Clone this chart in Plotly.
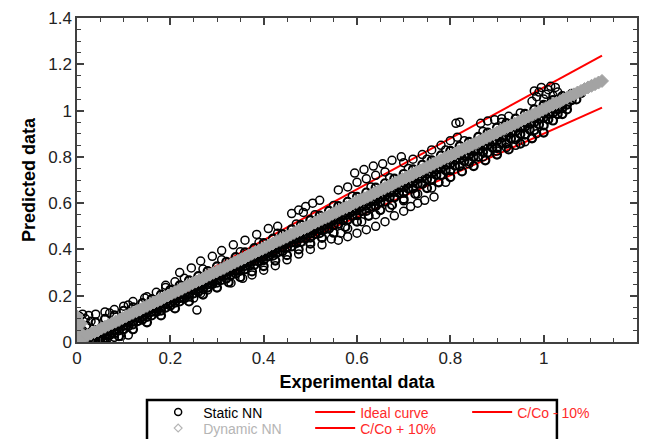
import plotly.graph_objects as go

FONT = "Liberation Sans, Arial, sans-serif"

# ---------------- data ----------------
# Reference lines
line_x = [0.0, 1.125]
ideal_y = [0.0, 1.125]
plus10_y = [0.0, 1.2375]
minus10_y = [0.0, 1.0125]

# Dynamic NN (grey diamonds)
dyn_x = [0.0, 0.015, 0.03, 0.045, 0.06, 0.075, 0.09, 0.105, 0.12, 0.135, 0.15, 0.165, 0.18, 0.195,
         0.21, 0.225, 0.24, 0.255, 0.27, 0.285, 0.30, 0.315, 0.33, 0.345, 0.36, 0.375, 0.39, 0.405,
         0.42, 0.435, 0.45, 0.465, 0.48, 0.495, 0.51, 0.525, 0.54, 0.555, 0.57, 0.585, 0.60, 0.615,
         0.63, 0.645, 0.66, 0.675, 0.69, 0.705, 0.72, 0.735, 0.75, 0.765, 0.78, 0.795, 0.81, 0.825,
         0.84, 0.855, 0.87, 0.885, 0.90, 0.915, 0.93, 0.945, 0.96, 0.975, 0.99, 1.005, 1.02, 1.035,
         1.05, 1.065, 1.08, 1.095, 1.11, 1.125,
         0.0, 0.0, 0.0, 0.0, 0.0, 0.008, 0.008]
dyn_y = [0.005, 0.02, 0.036, 0.05, 0.066, 0.081, 0.095, 0.111, 0.126, 0.14, 0.156, 0.171, 0.185, 0.201,
         0.216, 0.23, 0.246, 0.261, 0.275, 0.291, 0.306, 0.32, 0.336, 0.351, 0.365, 0.381, 0.396, 0.41,
         0.426, 0.441, 0.455, 0.471, 0.486, 0.5, 0.516, 0.531, 0.545, 0.561, 0.576, 0.59, 0.606, 0.621,
         0.635, 0.651, 0.666, 0.68, 0.696, 0.711, 0.725, 0.741, 0.756, 0.77, 0.786, 0.801, 0.815, 0.831,
         0.846, 0.86, 0.876, 0.891, 0.905, 0.921, 0.936, 0.95, 0.966, 0.981, 0.995, 1.011, 1.026, 1.04,
         1.056, 1.07, 1.085, 1.1, 1.114, 1.128,
         0.03, 0.05, 0.07, 0.09, 0.11, 0.04, 0.08]
dyn2_x = [0.0075, 0.0225, 0.0375, 0.0525, 0.0675, 0.0825, 0.0975, 0.1125, 0.1275, 0.1425, 0.1575,
          0.1725, 0.1875, 0.2025, 0.2175, 0.2325, 0.2475, 0.2625, 0.2775, 0.2925, 0.3075, 0.3225,
          0.3375, 0.3525, 0.3675, 0.3825, 0.3975, 0.4125, 0.4275, 0.4425, 0.4575, 0.4725, 0.4875,
          0.5025, 0.5175, 0.5325, 0.5475, 0.5625, 0.5775, 0.5925, 0.6075, 0.6225, 0.6375, 0.6525,
          0.6675, 0.6825, 0.6975, 0.7125, 0.7275, 0.7425, 0.7575, 0.7725, 0.7875, 0.8025, 0.8175,
          0.8325, 0.8475, 0.8625, 0.8775, 0.8925, 0.9075, 0.9225, 0.9375, 0.9525, 0.9675, 0.9825,
          0.9975, 1.0125, 1.0275, 1.0425, 1.0575, 1.0725, 1.0875, 1.1025, 1.1175]
dyn2_y = [0.014, 0.029, 0.043, 0.059, 0.074, 0.088, 0.104, 0.119, 0.133, 0.149, 0.164, 0.178, 0.194,
          0.209, 0.223, 0.239, 0.254, 0.268, 0.284, 0.299, 0.313, 0.329, 0.344, 0.358, 0.374, 0.389,
          0.403, 0.419, 0.434, 0.448, 0.464, 0.479, 0.493, 0.509, 0.524, 0.538, 0.554, 0.569, 0.583,
          0.599, 0.614, 0.628, 0.644, 0.659, 0.673, 0.689, 0.704, 0.718, 0.734, 0.749, 0.763, 0.779,
          0.794, 0.808, 0.824, 0.839, 0.853, 0.869, 0.884, 0.898, 0.914, 0.929, 0.943, 0.959, 0.974,
          0.988, 1.004, 1.019, 1.033, 1.049, 1.064, 1.078, 1.093, 1.107, 1.121]

# Static NN (black open circles) - dense core rows
core_l1_x = [0.01, 0.03, 0.05, 0.07, 0.09, 0.11, 0.13, 0.15, 0.17, 0.19, 0.21, 0.23, 0.25, 0.27, 0.29,
             0.31, 0.33, 0.35, 0.37, 0.39, 0.41, 0.43, 0.45, 0.47, 0.49, 0.51, 0.53, 0.55, 0.57, 0.59,
             0.61, 0.63, 0.65, 0.67, 0.69, 0.71, 0.73, 0.75, 0.77, 0.79, 0.81, 0.83, 0.85, 0.87, 0.89,
             0.91, 0.93, 0.95, 0.97, 0.99, 1.01, 1.03, 1.05, 1.07]
core_l1_y = [0.0, 0.008, 0.027, 0.045, 0.066, 0.085, 0.104, 0.125, 0.146, 0.164, 0.185, 0.204, 0.226,
             0.245, 0.264, 0.286, 0.305, 0.324, 0.346, 0.365, 0.384, 0.405, 0.426, 0.444, 0.465, 0.486,
             0.504, 0.525, 0.546, 0.564, 0.585, 0.606, 0.624, 0.645, 0.666, 0.684, 0.705, 0.726, 0.745,
             0.764, 0.786, 0.805, 0.824, 0.846, 0.865, 0.884, 0.905, 0.926, 0.944, 0.965, 0.986, 1.005,
             1.026, 1.048]
core_l1b_x = [0.04, 0.06, 0.08, 0.10, 0.12, 0.14, 0.16, 0.18, 0.20, 0.22, 0.24, 0.26, 0.28, 0.30, 0.32,
              0.34, 0.36, 0.38, 0.40, 0.42, 0.44, 0.46, 0.48, 0.50, 0.52, 0.54, 0.56, 0.58, 0.60, 0.62,
              0.64, 0.66, 0.68, 0.70, 0.72, 0.74, 0.76, 0.78, 0.80, 0.82, 0.84, 0.86, 0.88, 0.90, 0.92,
              0.94, 0.96, 0.98, 1.00, 1.02, 1.04, 1.06]
core_l1b_y = [0.027, 0.047, 0.068, 0.087, 0.108, 0.127, 0.147, 0.168, 0.187, 0.208, 0.228, 0.247, 0.268,
              0.288, 0.307, 0.328, 0.348, 0.367, 0.388, 0.407, 0.428, 0.447, 0.468, 0.488, 0.507, 0.528,
              0.548, 0.567, 0.588, 0.607, 0.628, 0.648, 0.667, 0.688, 0.707, 0.728, 0.748, 0.767, 0.788,
              0.807, 0.828, 0.848, 0.867, 0.888, 0.907, 0.928, 0.948, 0.967, 0.988, 1.007, 1.028, 1.045]
core_l15_x = [0.06, 0.08, 0.10, 0.12, 0.14, 0.16, 0.18, 0.20, 0.22, 0.24, 0.26, 0.28, 0.30, 0.32, 0.34,
              0.36, 0.38, 0.40, 0.42, 0.44, 0.46, 0.48, 0.50, 0.52, 0.54, 0.56, 0.58, 0.60, 0.62, 0.64,
              0.66, 0.68, 0.70, 0.72, 0.74, 0.76, 0.78, 0.80, 0.82, 0.84, 0.86, 0.88, 0.90, 0.92, 0.94,
              0.96, 0.98, 1.00, 1.02, 1.04]
core_l15_y = [0.03, 0.05, 0.07, 0.089, 0.11, 0.13, 0.15, 0.169, 0.19, 0.21, 0.23, 0.249, 0.27, 0.29,
              0.31, 0.329, 0.35, 0.37, 0.39, 0.409, 0.43, 0.45, 0.47, 0.489, 0.51, 0.53, 0.55, 0.569,
              0.59, 0.61, 0.63, 0.649, 0.67, 0.69, 0.71, 0.729, 0.75, 0.77, 0.79, 0.809, 0.83, 0.85,
              0.87, 0.889, 0.91, 0.93, 0.95, 0.969, 0.99, 1.01]
core_l2_x = [0.02, 0.04, 0.06, 0.08, 0.10, 0.12, 0.14, 0.16, 0.18, 0.20, 0.22, 0.24, 0.26, 0.28, 0.30,
             0.32, 0.34, 0.36, 0.38, 0.40, 0.42, 0.44, 0.46, 0.48, 0.50, 0.52, 0.54, 0.56, 0.58, 0.60,
             0.62, 0.64, 0.66, 0.68, 0.70, 0.72, 0.74, 0.76, 0.78, 0.80, 0.82, 0.84, 0.86, 0.88, 0.90,
             0.92, 0.94, 0.96, 0.98, 1.00, 1.02, 1.04]
core_l2_y = [0.0, 0.0, 0.016, 0.037, 0.055, 0.076, 0.097, 0.115, 0.136, 0.157, 0.175, 0.196, 0.217,
             0.235, 0.256, 0.274, 0.295, 0.314, 0.333, 0.354, 0.373, 0.392, 0.413, 0.432, 0.451, 0.47,
             0.49, 0.51, 0.528, 0.548, 0.566, 0.587, 0.606, 0.625, 0.645, 0.664, 0.683, 0.703, 0.722,
             0.741, 0.76, 0.78, 0.8, 0.818, 0.838, 0.857, 0.876, 0.896, 0.915, 0.936, 0.957, 0.985]
core_l2b_x = [0.03, 0.05, 0.07, 0.09, 0.11, 0.13, 0.15, 0.17, 0.19, 0.21, 0.23, 0.25, 0.27, 0.29, 0.31,
              0.33, 0.35, 0.37, 0.39, 0.41, 0.43, 0.45, 0.47, 0.49, 0.51, 0.53, 0.55, 0.57, 0.59, 0.61,
              0.63, 0.65, 0.67, 0.69, 0.71, 0.73, 0.75, 0.77, 0.79, 0.81, 0.83, 0.85, 0.87, 0.89, 0.91,
              0.93, 0.95, 0.97, 0.99, 1.01, 1.03, 1.05]
core_l2b_y = [0.0, 0.01, 0.03, 0.05, 0.068, 0.09, 0.108, 0.13, 0.148, 0.17, 0.188, 0.21, 0.228, 0.25,
              0.268, 0.29, 0.308, 0.33, 0.347, 0.37, 0.387, 0.408, 0.427, 0.448, 0.466, 0.487, 0.505,
              0.526, 0.545, 0.565, 0.585, 0.604, 0.624, 0.644, 0.663, 0.683, 0.703, 0.722, 0.742, 0.762,
              0.781, 0.8, 0.82, 0.84, 0.86, 0.879, 0.898, 0.918, 0.94, 0.962, 0.985, 1.005]
core_l3_x = [0.06, 0.09, 0.12, 0.15, 0.18, 0.21, 0.24, 0.27, 0.30, 0.325, 0.35, 0.375, 0.40, 0.425,
             0.45, 0.475, 0.50, 0.525, 0.55, 0.575, 0.60, 0.625, 0.65, 0.675, 0.70, 0.725, 0.75, 0.775,
             0.80, 0.825, 0.85, 0.875, 0.90, 0.925, 0.95, 0.975, 1.0]
core_l3_y = [0.0, 0.025, 0.055, 0.085, 0.115, 0.145, 0.175, 0.205, 0.235, 0.258, 0.28, 0.305, 0.328,
             0.352, 0.375, 0.40, 0.425, 0.45, 0.472, 0.497, 0.52, 0.545, 0.57, 0.592, 0.617, 0.64, 0.665,
             0.69, 0.712, 0.737, 0.76, 0.785, 0.81, 0.832, 0.857, 0.88, 0.905]
core_u1_x = [0.02, 0.04, 0.06, 0.08, 0.10, 0.12, 0.14, 0.16, 0.18, 0.20, 0.22, 0.24, 0.26, 0.28, 0.30,
             0.32, 0.34, 0.36, 0.38, 0.40, 0.42, 0.44, 0.46, 0.48, 0.50, 0.52, 0.54, 0.56, 0.58, 0.60,
             0.62, 0.64, 0.66, 0.68, 0.70, 0.72, 0.74, 0.76, 0.78, 0.80, 0.82, 0.84, 0.86, 0.88, 0.90,
             0.92, 0.94, 0.96, 0.98, 1.00, 1.02, 1.04, 1.06, 1.08]
core_u1_y = [0.07, 0.085, 0.10, 0.115, 0.135, 0.15, 0.168, 0.185, 0.205, 0.225, 0.245, 0.266, 0.285,
             0.306, 0.327, 0.346, 0.367, 0.387, 0.406, 0.427, 0.447, 0.466, 0.487, 0.506, 0.527, 0.546,
             0.567, 0.587, 0.606, 0.627, 0.646, 0.667, 0.686, 0.706, 0.726, 0.746, 0.766, 0.785, 0.806,
             0.826, 0.846, 0.865, 0.886, 0.905, 0.926, 0.946, 0.965, 0.986, 1.005, 1.025, 1.045, 1.062,
             1.072, 1.075]

# Static NN - sparser rows / cluster at the origin / scattered points
core_u2_x = [0.03, 0.07, 0.11, 0.15, 0.19, 0.23, 0.27, 0.31, 0.35, 0.39, 0.43, 0.47, 0.51, 0.55, 0.59,
             0.63, 0.67, 0.71, 0.75, 0.79, 0.83, 0.87, 0.91, 0.95]
core_u2_y = [0.09, 0.125, 0.16, 0.195, 0.235, 0.275, 0.315, 0.355, 0.39, 0.43, 0.47, 0.51, 0.55, 0.59,
             0.63, 0.67, 0.71, 0.75, 0.79, 0.83, 0.87, 0.91, 0.95, 0.99]
origin_x = [0.0, 0.0, 0.0, 0.0, 0.0, 0.0, 0.0, 0.006, 0.006, 0.006, 0.012, 0.012, 0.012, 0.018, 0.018,
            0.025, 0.03, 0.035, 0.045, 0.055, 0.065, 0.08, 0.095, 0.11]
origin_y = [0.0, 0.02, 0.04, 0.06, 0.08, 0.10, 0.115, 0.03, 0.07, 0.11, 0.01, 0.05, 0.12, 0.0, 0.10,
            0.115, 0.0, 0.01, 0.0, 0.005, 0.015, 0.02, 0.025, 0.03]
upper_x = [0.04, 0.06, 0.08, 0.10, 0.12, 0.145, 0.17, 0.19, 0.21,
           0.22, 0.245, 0.265, 0.29, 0.31, 0.335, 0.36, 0.385, 0.41, 0.43,
           0.46, 0.475, 0.49, 0.505, 0.52, 0.485,
           0.595, 0.615, 0.635, 0.655, 0.675, 0.695, 0.56, 0.58, 0.60, 0.62, 0.64, 0.66,
           0.70, 0.72, 0.74, 0.76, 0.78, 0.80, 0.815, 0.812, 0.82,
           0.865, 0.88, 0.895, 0.91, 0.925,
           0.975, 0.985, 0.99, 0.995, 1.005, 1.01, 1.015, 1.025, 1.03, 1.0, 0.98, 1.02]
upper_y = [0.12, 0.13, 0.14, 0.155, 0.175, 0.19, 0.215, 0.245, 0.26,
           0.30, 0.32, 0.35, 0.37, 0.395, 0.42, 0.44, 0.465, 0.49, 0.50,
           0.555, 0.57, 0.585, 0.60, 0.612, 0.56,
           0.73, 0.745, 0.76, 0.77, 0.785, 0.80, 0.657, 0.67, 0.69, 0.705, 0.72, 0.735,
           0.775, 0.79, 0.81, 0.83, 0.85, 0.87, 0.885, 0.945, 0.95,
           0.945, 0.955, 0.96, 0.965, 0.975,
           1.04, 1.06, 1.08, 1.10, 1.07, 1.09, 1.105, 1.10, 1.08, 1.05, 1.085, 1.065]
lower_x = [0.257, 0.25, 0.265, 0.28,
           0.33, 0.355, 0.375, 0.40, 0.425, 0.45, 0.475, 0.50, 0.525, 0.545, 0.565,
           0.56, 0.58, 0.60, 0.62, 0.64, 0.66, 0.68, 0.70, 0.715, 0.73, 0.745, 0.765,
           0.58, 0.61, 0.64, 0.67, 0.70, 0.73, 0.76, 0.79,
           0.84, 0.87, 0.90, 0.92, 0.94, 0.96, 0.975, 0.985]
lower_y = [0.138, 0.19, 0.21, 0.225,
           0.255, 0.275, 0.29, 0.31, 0.33, 0.355, 0.38, 0.40, 0.42, 0.445, 0.47,
           0.44, 0.455, 0.47, 0.485, 0.50, 0.52, 0.545, 0.565, 0.585, 0.60, 0.612, 0.627,
           0.49, 0.52, 0.55, 0.58, 0.61, 0.64, 0.665, 0.69,
           0.77, 0.80, 0.825, 0.84, 0.85, 0.865, 0.88, 0.90]

dense_x = core_l1_x + core_l1b_x + core_l15_x + core_l2_x + core_l2b_x + core_l3_x + core_u1_x
dense_y = core_l1_y + core_l1b_y + core_l15_y + core_l2_y + core_l2b_y + core_l3_y + core_u1_y
sparse_x = core_u2_x + origin_x + upper_x + lower_x
sparse_y = core_u2_y + origin_y + upper_y + lower_y
dynamic_x = dyn_x + dyn2_x
dynamic_y = dyn_y + dyn2_y

# ---------------- figure ----------------
RED = "#ff0000"
GREY = "#a3a3a3"

fig = go.Figure()

for ys, nm, rank, lg in [(ideal_y, '<span style="color:#ff2a2a">Ideal curve</span>', 2, "legend"),
                         (minus10_y, '<span style="color:#ff2a2a">C/Co - 10%</span>', 3, "legend"),
                         (plus10_y, '<span style="color:#ff2a2a">C/Co + 10%</span>', 5, "legend2")]:
    fig.add_trace(go.Scatter(x=line_x, y=ys, mode="lines", name=nm, legendrank=rank, legend=lg,
                             line=dict(color=RED, width=2)))

fig.add_trace(go.Scatter(x=sparse_x, y=sparse_y, mode="markers", showlegend=False,
                         marker=dict(symbol="circle-open", size=8, color="black",
                                     line=dict(width=1.5, color="black"))))
fig.add_trace(go.Scatter(x=dense_x, y=dense_y, mode="markers", showlegend=False,
                         marker=dict(symbol="circle-open", size=8, color="black",
                                     line=dict(width=2.2, color="black"))))
fig.add_trace(go.Scatter(x=dynamic_x, y=dynamic_y, mode="markers", showlegend=False,
                         marker=dict(symbol="diamond", size=10, color=GREY,
                                     line=dict(width=1, color=GREY))))

# legend-only entries
fig.add_trace(go.Scatter(x=[None], y=[None], mode="markers", name="Static NN", legendrank=1,
                         legend="legend",
                         marker=dict(symbol="circle-open", size=7, color="black",
                                     line=dict(width=1.5, color="black"))))
fig.add_trace(go.Scatter(x=[None], y=[None], mode="markers", legend="legend2",
                         name='<span style="color:#b5b5b5">Dynamic NN</span>', legendrank=4,
                         marker=dict(symbol="diamond-open", size=6, color="#b5b5b5",
                                     line=dict(width=1.2, color="#b5b5b5"))))

axis_common = dict(
    showline=True, linecolor="#404040", linewidth=1.5, mirror="ticks",
    ticks="inside", ticklen=7, tickwidth=1.5, tickcolor="#404040",
    tickfont=dict(family=FONT, size=17, color="#222"),
    showgrid=False, zeroline=False, automargin=False,
    minor=dict(ticks="inside", ticklen=4, tickwidth=1.2, tickcolor="#404040", dtick=0.05),
)

fig.update_xaxes(range=[0, 1.2], dtick=0.2, tick0=0,
                 title=dict(text="<b>Experimental data</b>", font=dict(family=FONT, size=18, color="black"),
                            standoff=8),
                 **axis_common)
fig.update_yaxes(range=[0, 1.4], dtick=0.2, tick0=0,
                 title=dict(text="<b>Predicted data</b>", font=dict(family=FONT, size=18, color="black"),
                            standoff=8),
                 **axis_common)

legend_common = dict(orientation="h", x=0.136, xanchor="left", yanchor="top",
                     entrywidth=102, entrywidthmode="pixels", itemwidth=40,
                     bgcolor="rgba(0,0,0,0)", borderwidth=0,
                     font=dict(family=FONT, size=14), tracegroupgap=0)

fig.update_layout(
    width=645, height=439,
    margin=dict(l=77, r=8, t=18, b=97, autoexpand=False),
    plot_bgcolor="white", paper_bgcolor="white",
    font=dict(family=FONT, size=14, color="black"),
    legend=dict(y=-0.168, **legend_common),
    legend2=dict(y=-0.2175, **legend_common),
    shapes=[dict(type="rect", xref="paper", yref="paper", x0=0.125, x1=0.857, y0=-0.179, y1=-0.33,
                 line=dict(color="black", width=2.5), fillcolor="rgba(0,0,0,0)")],
)

fig.write_html("out.html", config={"displayModeBar": False},
               post_script="document.body.style.margin='0px';")
